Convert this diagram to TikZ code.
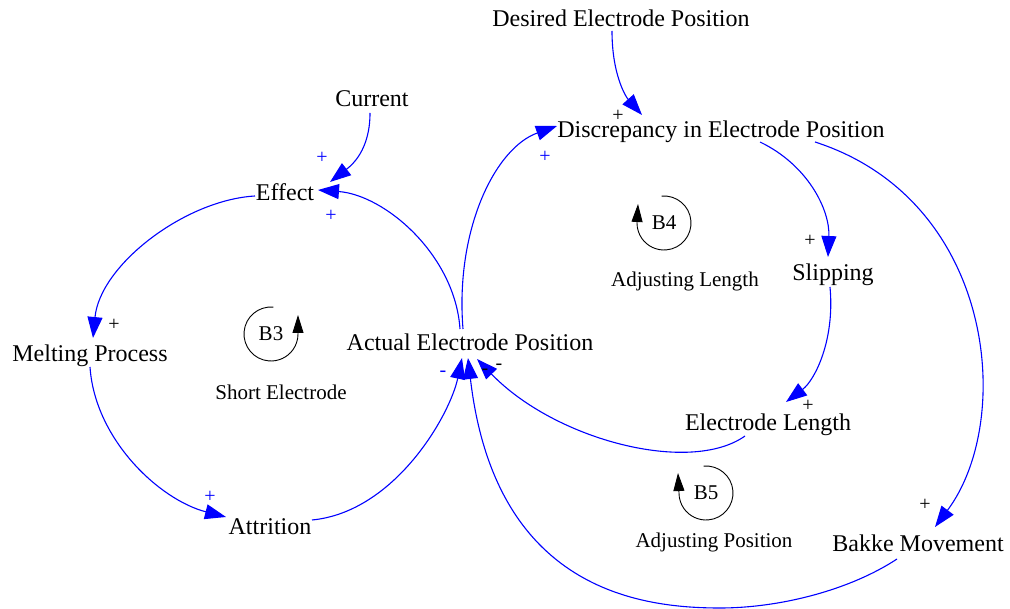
\documentclass[tikz,border=0pt]{standalone}
\usepackage{fontspec}
\setmainfont{Liberation Serif}
\usetikzlibrary{arrows.meta}
\begin{document}
\begin{tikzpicture}[x=1pt, y=1pt,
  var/.style={inner sep=0pt, font=\fontsize{24}{28}\selectfont},
  loopname/.style={inner sep=0pt, font=\fontsize{21}{25}\selectfont},
  pol/.style={inner sep=0pt, font=\fontsize{20}{24}\selectfont},
  link/.style={draw=blue, line width=1.1pt, -{Triangle[length=21pt,width=15pt]}},
  turn/.style={draw, line width=0.9pt, -{Triangle[length=18pt,width=11pt]}}]
  \useasboundingbox (0,0) rectangle (1010,-609);
  % variables
  \node[var] (desired) at (621,-18) {Desired Electrode Position};
  \node[var] (current) at (372,-99) {Current};
  \node[var] (disc) at (721,-132) {Discrepancy in Electrode Position};
  \node[var] (effect) at (285,-192) {Effect};
  \node[var] (slip) at (833,-275) {Slipping};
  \node[var] (melt) at (90,-356) {Melting Process};
  \node[var] (actual) at (470,-342) {Actual Electrode Position};
  \node[var] (elen) at (768,-425) {Electrode Length};
  \node[var] (attr) at (270,-527) {Attrition};
  \node[var] (bakke) at (918,-543) {Bakke Movement};
  % loops
  \node[loopname] (b3) at (271,-334) {B3};
  \node[loopname] (b3name) at (281,-392) {Short Electrode};
  \node[loopname] (b4) at (664,-223) {B4};
  \node[loopname] (b4name) at (685,-281) {Adjusting Length};
  \node[loopname] (b5) at (706,-493) {B5};
  \node[loopname] (b5name) at (714,-542) {Adjusting Position};
  \draw[turn] (b3.center) ++(85:27pt) arc[start angle=85, end angle=360, radius=27pt] -- ++(0,19);
  \draw[turn] (b4.center) ++(95:27pt) arc[start angle=95, end angle=-180, radius=27pt] -- ++(1,19);
  \draw[turn] (b5.center) ++(95:27pt) arc[start angle=95, end angle=-180, radius=27pt] -- ++(-1,20);
  % links
  \draw[link] ([shift={(-9,-13)}]desired.center) .. controls (612,-75) and (626,-97) .. ([shift={(-79,17)}]disc.center);
  \draw[link] ([shift={(-2,-14)}]current.center) .. controls (370,-150) and (352,-165) .. ([shift={(45,10)}]effect.center);
  \draw[link] ([shift={(-10,13)}]actual.center) .. controls (455,-255) and (385,-195) .. ([shift={(33,2)}]effect.center);
  \draw[link] ([shift={(-30,-4)}]effect.center) .. controls (185,-200) and (100,-265) .. ([shift={(3,18)}]melt.center);
  \draw[link] ([shift={(0,-11)}]melt.center) .. controls (95,-440) and (160,-500) .. ([shift={(-44,10)}]attr.center);
  \draw[link] ([shift={(42,7)}]attr.center) .. controls (395,-512) and (450,-415) .. ([shift={(-8,-16)}]actual.center);
  \draw[link] ([shift={(-7,13)}]actual.center) .. controls (455,-230) and (495,-148) .. ([shift={(-164,6)}]disc.center);
  \draw[link] ([shift={(39,-10)}]disc.center) .. controls (808,-165) and (830,-210) .. ([shift={(-5,18)}]slip.center);
  \draw[link] ([shift={(-3,-12)}]slip.center) .. controls (835,-340) and (815,-380) .. ([shift={(18,23)}]elen.center);
  \draw[link] ([shift={(-23,-11)}]elen.center) .. controls (690,-475) and (555,-440) .. ([shift={(7,-17)}]actual.center);
  \draw[link] ([shift={(94,-10)}]disc.center) .. controls (995,-200) and (1015,-420) .. ([shift={(17,16)}]bakke.center);
  \draw[link] ([shift={(-21,-16)}]bakke.center) .. controls (850,-590) and (780,-608) .. (720,-608)
    .. controls (640,-608) and (495,-590) .. ([shift={(-2,-16)}]actual.center);
  % polarities
  \node[pol] (pdd) at (618,-116) {+};
  \node[pol, blue] (pce) at (322,-158) {+};
  \node[pol, blue] (pae) at (331,-216) {+};
  \node[pol] (pem) at (114,-325) {+};
  \node[pol, blue] (pma) at (210,-497) {+};
  \node[pol, blue] (paa) at (443,-374) {-};
  \node[pol, blue] (pad) at (545,-157) {+};
  \node[pol] (pds) at (810,-241) {+};
  \node[pol] (pse) at (808,-406) {+};
  \node[pol] (pea) at (499,-367) {-};
  \node[pol] (pba) at (485,-372) {-};
  \node[pol] (pdb) at (925,-505) {+};
\end{tikzpicture}
\end{document}
